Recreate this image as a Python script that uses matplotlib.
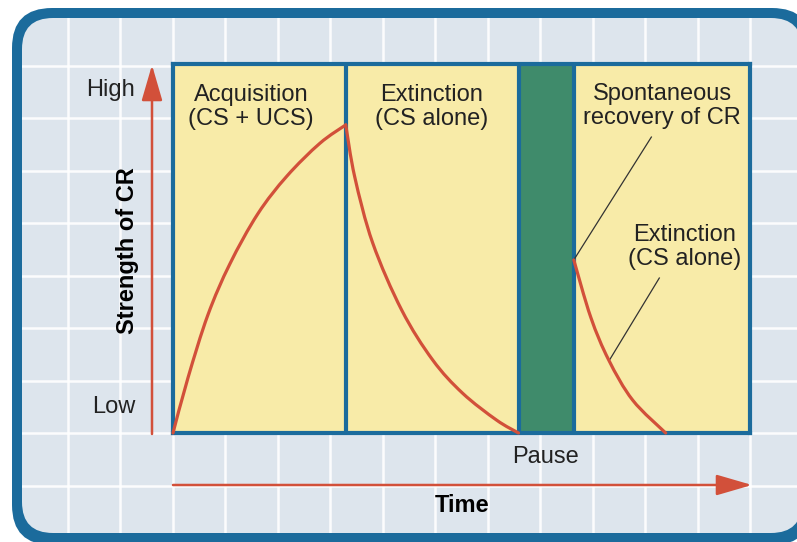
import matplotlib.pyplot as plt
from matplotlib.patches import FancyBboxPatch, PathPatch
from matplotlib.path import Path
from matplotlib.transforms import IdentityTransform

plt.rcParams['font.family'] = ['Liberation Sans', 'DejaVu Sans']

# phase boundaries along the time axis
phase_edges = [0, 10, 20, 23.2, 33.4]

# strength of CR (0 = low, 1 = high)
acq_t = [0, 0.87, 2.02, 3.29, 4.91, 6.59, 8.50, 10]
acq_s = [0, 0.150, 0.320, 0.458, 0.594, 0.696, 0.785, 0.835]
ext_t = [10, 10.52, 11.56, 13.24, 15.03, 16.76, 18.73, 20]
ext_s = [0.835, 0.694, 0.515, 0.333, 0.198, 0.108, 0.035, 0]
rec_t = [23.2, 24.18, 25.22, 26.61, 28.52]
rec_s = [0.469, 0.314, 0.198, 0.089, 0]

blue = '#1b6b9c'
red = '#d2503a'
yellow = '#f8eba8'
green = '#3f8b6b'
txt = '#222222'


def smooth_path(t, s):
    # catmull-rom through the read points, drawn as bezier segments
    pts = list(zip(t, s))
    verts = [pts[0]]
    codes = [Path.MOVETO]
    for i in range(len(pts) - 1):
        p0 = pts[i - 1] if i > 0 else pts[i]
        p1, p2 = pts[i], pts[i + 1]
        p3 = pts[i + 2] if i + 2 < len(pts) else pts[i + 1]
        c1 = (p1[0] + (p2[0] - p0[0]) / 6, p1[1] + (p2[1] - p0[1]) / 6)
        c2 = (p2[0] - (p3[0] - p1[0]) / 6, p2[1] - (p3[1] - p1[1]) / 6)
        verts += [c1, c2, p2]
        codes += [Path.CURVE4] * 3
    return Path(verts, codes)


W, H = 797, 542
fig = plt.figure(figsize=(W / 100, H / 100), dpi=100)
fig.patch.set_facecolor('white')

# rounded frame in image pixels (origin bottom-left): blue outer, light inner
ident = IdentityTransform()
fig.add_artist(FancyBboxPatch((12, -3), 800, 537, boxstyle='round,pad=0,rounding_size=40',
                              facecolor=blue, edgecolor='none', transform=ident, zorder=0))
frame = FancyBboxPatch((22, 9), 780, 515, boxstyle='round,pad=0,rounding_size=31',
                       facecolor='#dde5ed', edgecolor='none', transform=ident, zorder=0)
fig.add_artist(frame)

# background layer in pixel units (y down)
bg = fig.add_axes([0, 0, 1, 1])
bg.set_xlim(0, W)
bg.set_ylim(H, 0)
bg.axis('off')
bg.patch.set_alpha(0)

for k in range(16):
    x = 15.5 + 52.5 * k
    ln, = bg.plot([x, x], [0, H], color='white', lw=1.8, alpha=0.9, zorder=2)
    ln.set_clip_path(frame)
for k in range(-1, 9):
    y = 433 - 52.5 * k
    ln, = bg.plot([0, W], [y, y], color='white', lw=1.8, alpha=0.9, zorder=2)
    ln.set_clip_path(frame)

# axis arrows
arr = dict(arrowstyle='-|>,head_length=1.1,head_width=0.32', color=red, lw=1.8,
           mutation_scale=20, shrinkA=0, shrinkB=0)
bg.annotate('', xy=(152, 65), xytext=(152, 434), arrowprops=arr, zorder=4)
bg.annotate('', xy=(752, 485), xytext=(173, 485), arrowprops=arr, zorder=4)

fs = 17
bg.text(135, 90, 'High', ha='right', va='center', fontsize=fs, color=txt)
bg.text(135, 407, 'Low', ha='right', va='center', fontsize=fs, color=txt)
bg.text(128, 251, 'Strength of CR', rotation=90, ha='center', va='center',
        fontsize=fs, fontweight='bold', color='black')
bg.text(546, 457, 'Pause', ha='center', va='center', fontsize=fs, color=txt)
bg.text(462, 505, 'Time', ha='center', va='center', fontsize=fs,
        fontweight='bold', color='black')

# main diagram
ax = fig.add_axes([173 / W, (H - 433) / H, 577 / W, 369 / H])
ax.set_xlim(phase_edges[0], phase_edges[-1])
ax.set_ylim(0, 1)
ax.set_facecolor(yellow)
ax.axvspan(phase_edges[2], phase_edges[3], color=green, zorder=1)
for e in phase_edges[1:-1]:
    ax.axvline(e, color=blue, lw=3, zorder=2)
for s in ax.spines.values():
    s.set_color(blue)
    s.set_linewidth(3)
ax.set_xticks([])
ax.set_yticks([])

for t, s in [(acq_t, acq_s), (ext_t, ext_s), (rec_t, rec_s)]:
    ax.add_patch(PathPatch(smooth_path(t, s), facecolor='none', edgecolor=red,
                           lw=2.3, capstyle='round', joinstyle='round',
                           zorder=4, clip_on=False))

# leader lines
ax.plot([rec_t[0], 27.69], [rec_s[0], 0.802], color='#333333', lw=0.9, zorder=3)
ax.plot([rec_t[2] + 0.05, 28.15], [rec_s[2], 0.420], color='#333333', lw=0.9, zorder=3)

# phase labels (pixel positions, drawn above the diagram)
labels = ['Acquisition\n(CS + UCS)', 'Extinction\n(CS alone)',
          'Spontaneous\nrecovery of CR', 'Extinction\n(CS alone)']
label_x = [251, 432, 662, 685]
label_y = [107, 107, 106, 247]
for name, x, y in zip(labels, label_x, label_y):
    ax.text(x, y, name, ha='center', va='center', fontsize=fs, color=txt,
            linespacing=1.15, zorder=6, transform=bg.transData)

fig.savefig('out.png', dpi=100)
